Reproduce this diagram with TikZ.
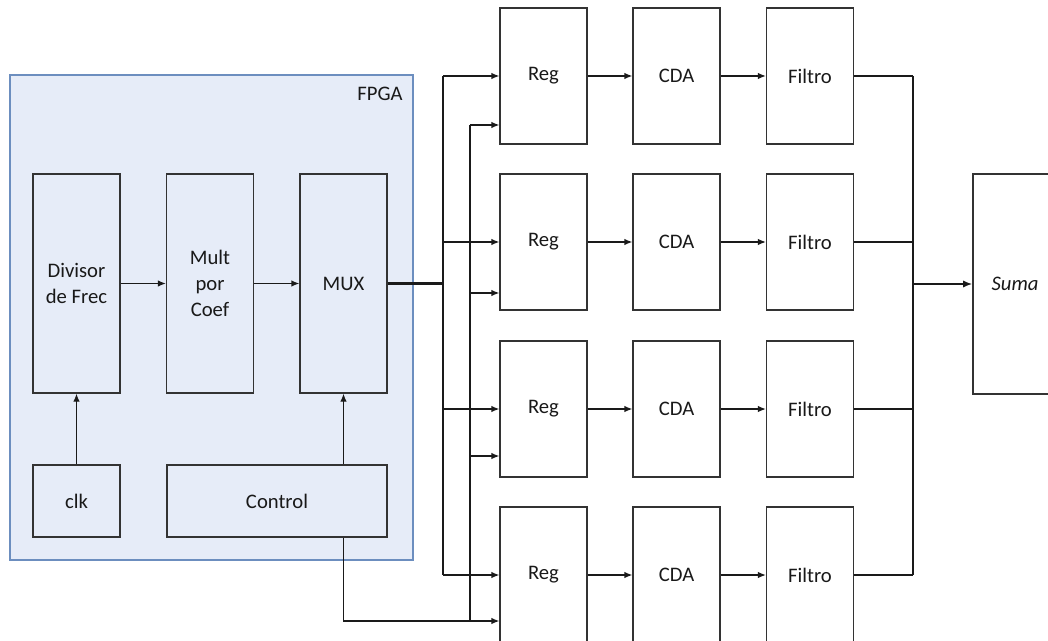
\documentclass[tikz,border=0pt]{standalone}
\usepackage{fontspec}
\setmainfont{Carlito}
\usetikzlibrary{arrows.meta,positioning,calc}
\definecolor{fpgafill}{HTML}{E6ECF8}
\definecolor{fpgaline}{HTML}{6C8EBF}
\definecolor{wire}{HTML}{1A1A1A}
\definecolor{boxline}{HTML}{333333}

\tikzset{
  blk/.style={draw=boxline,line width=0.9pt,inner sep=0pt,align=center,
              minimum width=65.25pt},
  tall/.style={blk,minimum height=164.25pt},
  stage/.style={blk,minimum height=102pt},
  arr/.style={draw=wire,line width=0.9pt,-{Latex[length=6pt,width=4.8pt]}},
  wireln/.style={draw=wire,line width=0.9pt},
  busln/.style={draw=wire,line width=1.8pt},
}

\begin{document}
\begin{tikzpicture}[x=0.75pt,y=-0.75pt,font=\fontsize{15.5}{19.5}\selectfont,
                    text=black!90]
  \useasboundingbox (0,0) rectangle (1048,641);
  \clip (0,0) rectangle (1048,641);

  % FPGA block
  \node[draw=fpgaline,fill=fpgafill,line width=0.9pt,inner sep=0pt,
        minimum width=302.25pt,minimum height=363.75pt] (fpga) at (211.5,317.5) {};
  \node (fpgalbl) at (380,94) {FPGA};

  \node[tall] (div) at (76.5,283.5) {Divisor\\de Frec};
  \node[tall] (mult) at (210,283.5) {Mult\\por\\Coef};
  \node[tall] (mux) at (343.5,283.5) {MUX};
  \node[blk,minimum height=54pt] (clk) at (76.5,501) {clk};
  \node[blk,minimum width=165pt,minimum height=54pt] (ctrl) at (277,501) {Control};

  \draw[arr] (div) -- (mult);
  \draw[arr] (mult) -- (mux);
  \draw[arr] (clk) -- (div);
  \draw[arr] (ctrl.north -| mux.south) -- (mux.south);

  % four output channels
  \foreach \i/\y/\c in {1/76/125,2/242/293,3/409/456,4/575/621}{
    \node[stage] (reg\i) at (543.5,\y) {Reg};
    \node[stage] (cda\i) at (676.5,\y) {CDA};
    \node[stage] (fil\i) at (810,\y) {Filtro};
    \coordinate (busA\i) at (443,\y);
    \coordinate (busB\i) at (470,\c);
    \coordinate (sumA\i) at (913,\y);
    \draw[arr] (busA\i) -- (reg\i);
    \draw[arr] (busB\i) -- (busB\i -| reg\i.west);
    \draw[arr] (reg\i) -- (cda\i);
    \draw[arr] (cda\i) -- (fil\i);
    \draw[wireln] (fil\i) -- (sumA\i);
  }

  \draw[busln] (mux.east) -- (busA1 |- mux.east);
  \draw[wireln] (busA1) -- (busA4);
  \draw[wireln] (busB1) -- (busB4);
  \draw[wireln] (ctrl.south -| mux.south) |- (busB4);

  % summing stage
  \draw[wireln] (sumA1) -- (sumA4);
  \node[blk,minimum width=63pt,minimum height=165pt] (suma) at (1015,284) {\itshape Suma};
  \draw[busln,-{Latex[length=7pt,width=5.5pt]}] (sumA1 |- suma.west) -- (suma.west);
\end{tikzpicture}
\end{document}
